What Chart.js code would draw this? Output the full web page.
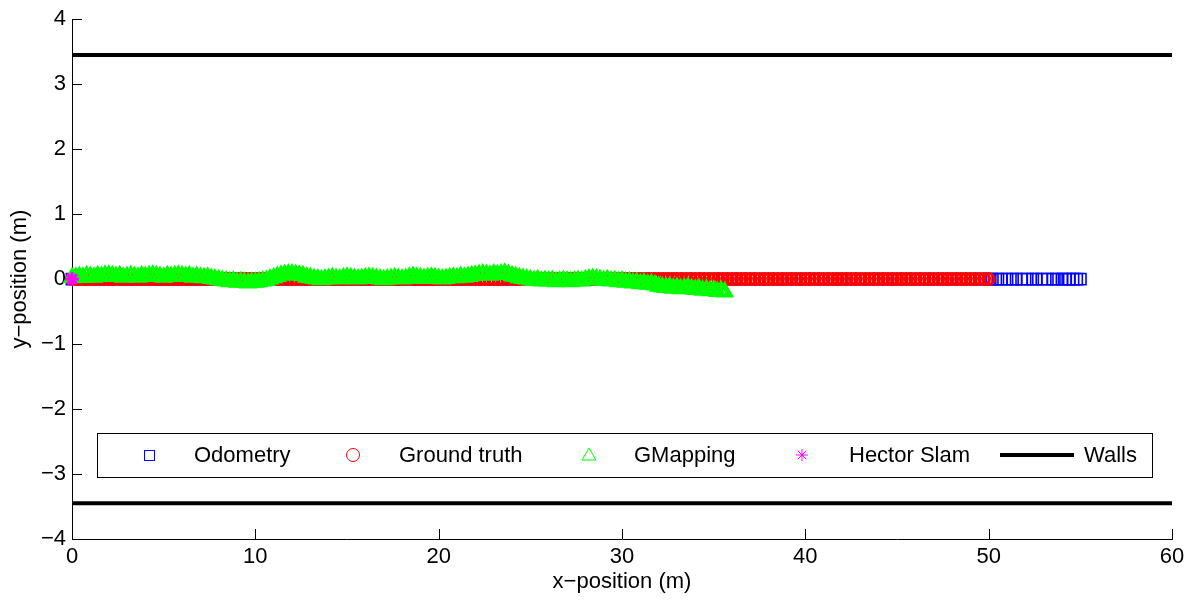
<!DOCTYPE html>
<html>
<head>
<meta charset="utf-8">
<script src="https://cdn.jsdelivr.net/npm/chart.js@4.4.1/dist/chart.umd.min.js"></script>
<style>
  html, body { margin: 0; padding: 0; background: #fff; }
</style>
</head>
<body>
<canvas id="traj" width="1191" height="600"></canvas>
<script>
// robot trajectories along the corridor, metres
const odomX = [
  0, 0.5, 1, 1.5, 2, 2.5, 3, 3.5, 4, 4.5, 5, 5.5, 6, 6.5, 7, 7.5, 8, 8.5, 9, 9.5,
  10, 10.5, 11, 11.5, 12, 12.5, 13, 13.5, 14, 14.5, 15, 15.5, 16, 16.5, 17, 17.5, 18, 18.5, 19, 19.5,
  20, 20.5, 21, 21.5, 22, 22.5, 23, 23.5, 24, 24.5, 25, 25.5, 26, 26.5, 27, 27.5, 28, 28.5, 29, 29.5,
  30, 30.5, 31, 31.5, 32, 32.5, 33, 33.5, 34, 34.5, 35, 35.5, 36, 36.5, 37, 37.5, 38, 38.5, 39, 39.5,
  40, 40.5, 41, 41.5, 42, 42.5, 43, 43.5, 44, 44.5, 45, 45.5, 46, 46.5, 47, 47.5, 48, 48.5, 49, 49.5,
  50, 50.2, 50.5, 50.7, 51.0, 51.3, 51.5, 51.8, 52.1, 52.4, 52.6, 52.9, 53.2, 53.5, 53.7,
  54.0, 54.2, 54.4, 54.6, 54.8, 55.0
];
const odomY = 0;

const groundX = [
  0, 0.25, 0.5, 0.75, 1, 1.25, 1.5, 1.75, 2, 2.25, 2.5, 2.75, 3, 3.25, 3.5, 3.75,
  4, 4.25, 4.5, 4.75, 5, 5.25, 5.5, 5.75, 6, 6.25, 6.5, 6.75, 7, 7.25, 7.5, 7.75,
  8, 8.25, 8.5, 8.75, 9, 9.25, 9.5, 9.75, 10, 10.25, 10.5, 10.75, 11, 11.25, 11.5, 11.75,
  12, 12.25, 12.5, 12.75, 13, 13.25, 13.5, 13.75, 14, 14.25, 14.5, 14.75, 15, 15.25, 15.5, 15.75,
  16, 16.25, 16.5, 16.75, 17, 17.25, 17.5, 17.75, 18, 18.25, 18.5, 18.75, 19, 19.25, 19.5, 19.75,
  20, 20.25, 20.5, 20.75, 21, 21.25, 21.5, 21.75, 22, 22.25, 22.5, 22.75, 23, 23.25, 23.5, 23.75,
  24, 24.25, 24.5, 24.75, 25, 25.25, 25.5, 25.75, 26, 26.25, 26.5, 26.75, 27, 27.25, 27.5, 27.75,
  28, 28.25, 28.5, 28.75, 29, 29.25, 29.5, 29.75, 30, 30.25, 30.5, 30.75, 31, 31.25, 31.5, 31.75,
  32, 32.25, 32.5, 32.75, 33, 33.25, 33.5, 33.75, 34, 34.25, 34.5, 34.75, 35, 35.25, 35.5, 35.75,
  36, 36.25, 36.5, 36.75, 37, 37.25, 37.5, 37.75, 38, 38.25, 38.5, 38.75, 39, 39.25, 39.5, 39.75,
  40, 40.25, 40.5, 40.75, 41, 41.25, 41.5, 41.75, 42, 42.25, 42.5, 42.75, 43, 43.25, 43.5, 43.75,
  44, 44.25, 44.5, 44.75, 45, 45.25, 45.5, 45.75, 46, 46.25, 46.5, 46.75, 47, 47.25, 47.5, 47.75,
  48, 48.25, 48.5, 48.75, 49, 49.25, 49.5, 49.75, 50
];
const groundY = 0;

const gmX = [
  0, 0.2, 0.4, 0.6, 0.8, 1, 1.2, 1.4, 1.6, 1.8,
  2, 2.2, 2.4, 2.6, 2.8, 3, 3.2, 3.4, 3.6, 3.8,
  4, 4.2, 4.4, 4.6, 4.8, 5, 5.2, 5.4, 5.6, 5.8,
  6, 6.2, 6.4, 6.6, 6.8, 7, 7.2, 7.4, 7.6, 7.8,
  8, 8.2, 8.4, 8.6, 8.8, 9, 9.2, 9.4, 9.6, 9.8,
  10, 10.2, 10.4, 10.6, 10.8, 11, 11.2, 11.4, 11.6, 11.8,
  12, 12.2, 12.4, 12.6, 12.8, 13, 13.2, 13.4, 13.6, 13.8,
  14, 14.2, 14.4, 14.6, 14.8, 15, 15.2, 15.4, 15.6, 15.8,
  16, 16.2, 16.4, 16.6, 16.8, 17, 17.2, 17.4, 17.6, 17.8,
  18, 18.2, 18.4, 18.6, 18.8, 19, 19.2, 19.4, 19.6, 19.8,
  20, 20.2, 20.4, 20.6, 20.8, 21, 21.2, 21.4, 21.6, 21.8,
  22, 22.2, 22.4, 22.6, 22.8, 23, 23.2, 23.4, 23.6, 23.8,
  24, 24.2, 24.4, 24.6, 24.8, 25, 25.2, 25.4, 25.6, 25.8,
  26, 26.2, 26.4, 26.6, 26.8, 27, 27.2, 27.4, 27.6, 27.8,
  28, 28.2, 28.4, 28.6, 28.8, 29, 29.2, 29.4, 29.6, 29.8,
  30, 30.2, 30.4, 30.6, 30.8, 31, 31.2, 31.4, 31.6, 31.8,
  32, 32.2, 32.4, 32.6, 32.8, 33, 33.2, 33.4, 33.6, 33.8,
  34, 34.2, 34.4, 34.6, 34.8, 35, 35.2, 35.4, 35.6
];
const gmY = [
  0.02, 0.03, 0.04, 0.03, 0.05, 0.04, 0.03, 0.05, 0.04, 0.06,
  0.06, 0.05, 0.04, 0.05, 0.03, 0.04, 0.05, 0.04, 0.03, 0.05,
  0.04, 0.05, 0.06, 0.05, 0.04, 0.03, 0.05, 0.04, 0.05, 0.06,
  0.05, 0.04, 0.05, 0.03, 0.04, 0.03, 0.02, 0.03, 0.01, 0.00,
  -0.01, -0.02, -0.03, -0.04, -0.03, -0.05, -0.04, -0.05, -0.06, -0.05,
  -0.05, -0.04, -0.03, -0.02, 0.00, 0.02, 0.04, 0.06, 0.07, 0.08,
  0.08, 0.07, 0.06, 0.05, 0.03, 0.02, 0.01, 0.00, -0.01, 0.00,
  0.01, 0.02, 0.01, 0.00, 0.02, 0.03, 0.02, 0.01, 0.00, 0.01,
  0.02, 0.03, 0.02, 0.01, 0.00, -0.01, 0.00, 0.01, 0.02, 0.01,
  0.00, 0.01, 0.03, 0.04, 0.03, 0.02, 0.01, 0.02, 0.03, 0.02,
  0.01, 0.00, 0.01, 0.02, 0.03, 0.02, 0.04, 0.03, 0.04, 0.05,
  0.06, 0.07, 0.08, 0.07, 0.06, 0.08, 0.07, 0.08, 0.09, 0.07,
  0.05, 0.04, 0.02, 0.01, 0.00, -0.01, -0.02, -0.01, -0.03, -0.02,
  -0.03, -0.02, -0.04, -0.03, -0.02, -0.03, -0.04, -0.03, -0.02, -0.03,
  -0.01, 0.00, 0.01, 0.00, -0.01, -0.02, -0.01, -0.03, -0.02, -0.04,
  -0.03, -0.05, -0.04, -0.06, -0.05, -0.07, -0.06, -0.08, -0.07, -0.09,
  -0.11, -0.12, -0.13, -0.12, -0.14, -0.13, -0.15, -0.14, -0.13, -0.15,
  -0.16, -0.15, -0.17, -0.16, -0.18, -0.17, -0.19, -0.18, -0.20
];

const hectorX = [0];
const hectorY = [0];

const wallX = [0, 30, 60];
const wallTopY = 3.45;
const wallBottomY = -3.45;

const seriesLabels = ["Odometry", "Ground truth", "GMapping", "Hector Slam", "Walls"];

const pts = (xs, y) => xs.map((x, i) => ({ x: x, y: Array.isArray(y) ? y[i] : y }));

const FONT = "'Liberation Sans', Arial, sans-serif";
Chart.defaults.font.family = FONT;
Chart.defaults.font.size = 22;
Chart.defaults.color = "#000";

// MATLAB-style ticks pointing into the plot
const inwardTicks = {
  id: "inwardTicks",
  beforeDatasetsDraw(chart) {
    const { ctx, chartArea, scales } = chart;
    ctx.save();
    ctx.strokeStyle = "#000";
    ctx.lineWidth = 1;
    ctx.beginPath();
    scales.x.ticks.forEach((t) => {
      const px = Math.round(scales.x.getPixelForValue(t.value)) + 0.5;
      ctx.moveTo(px, chartArea.bottom);
      ctx.lineTo(px, chartArea.bottom - 10);
    });
    scales.y.ticks.forEach((t) => {
      const py = Math.round(scales.y.getPixelForValue(t.value)) + 0.5;
      ctx.moveTo(chartArea.left, py);
      ctx.lineTo(chartArea.left + 10, py);
    });
    ctx.stroke();
    ctx.restore();
  },
};

// boxed horizontal legend sitting inside the axes
const boxLegend = {
  id: "boxLegend",
  afterDatasetsDraw(chart) {
    const { ctx, chartArea } = chart;
    const left = chartArea.left + 25;
    const right = chartArea.right - 20;
    const top = chartArea.bottom - 106;
    const bottom = chartArea.bottom - 62;
    const cy = (top + bottom) / 2;

    ctx.save();
    ctx.fillStyle = "#fff";
    ctx.fillRect(left, top, right - left, bottom - top);
    ctx.strokeStyle = "#000";
    ctx.lineWidth = 1;
    ctx.strokeRect(left + 0.5, top + 0.5, right - left, bottom - top);

    const markX = [52, 256, 492, 705];
    const textX = [97, 302, 537, 752, 987];
    ctx.lineWidth = 1;

    // square
    ctx.strokeStyle = "#0000ff";
    ctx.strokeRect(left + markX[0] - 5 + 0.5, cy - 5 + 0.5, 10, 10);
    // circle
    ctx.strokeStyle = "#ff0000";
    ctx.beginPath();
    ctx.arc(left + markX[1], cy, 6.5, 0, Math.PI * 2);
    ctx.stroke();
    // triangle
    ctx.strokeStyle = "#00ff00";
    ctx.beginPath();
    ctx.moveTo(left + markX[2], cy - 7);
    ctx.lineTo(left + markX[2] + 7, cy + 5);
    ctx.lineTo(left + markX[2] - 7, cy + 5);
    ctx.closePath();
    ctx.stroke();
    // asterisk
    ctx.strokeStyle = "#ff00ff";
    ctx.beginPath();
    for (let k = 0; k < 4; k++) {
      const a = (k * Math.PI) / 4;
      ctx.moveTo(left + markX[3] - 6 * Math.cos(a), cy - 6 * Math.sin(a));
      ctx.lineTo(left + markX[3] + 6 * Math.cos(a), cy + 6 * Math.sin(a));
    }
    ctx.stroke();
    // wall line
    ctx.strokeStyle = "#000";
    ctx.lineWidth = 4;
    ctx.beginPath();
    ctx.moveTo(left + 903, cy);
    ctx.lineTo(left + 977, cy);
    ctx.stroke();

    ctx.fillStyle = "#000";
    ctx.font = "22px " + FONT;
    ctx.textBaseline = "middle";
    ctx.textAlign = "left";
    seriesLabels.forEach((s, i) => ctx.fillText(s, left + textX[i], cy + 1));
    ctx.restore();
  },
};

const minus = (v) => String(v).replace("-", "\u2212");

new Chart(document.getElementById("traj"), {
  type: "scatter",
  data: {
    datasets: [
      {
        label: seriesLabels[0],
        data: pts(odomX, odomY),
        pointStyle: "rect",
        pointRadius: 8,
        pointBorderWidth: 1.6,
        borderColor: "#0000ff",
        backgroundColor: "transparent",
        order: 4,
        clip: false,
      },
      {
        label: seriesLabels[1],
        data: pts(groundX, groundY),
        pointStyle: "circle",
        pointRadius: 5.5,
        pointBorderWidth: 3,
        borderColor: "#ff0000",
        backgroundColor: "transparent",
        order: 3,
        clip: false,
      },
      {
        label: seriesLabels[2],
        data: pts(gmX, gmY),
        pointStyle: "triangle",
        pointRadius: 8,
        pointBorderWidth: 3,
        borderColor: "#00ff00",
        backgroundColor: "transparent",
        order: 2,
        clip: false,
      },
      {
        label: seriesLabels[3],
        data: pts(hectorX, hectorY),
        pointStyle: "star",
        pointRadius: 7,
        pointBorderWidth: 3,
        borderColor: "#ff00ff",
        backgroundColor: "transparent",
        order: 1,
        clip: false,
      },
      {
        label: seriesLabels[4],
        data: pts(wallX, wallTopY),
        showLine: true,
        pointRadius: 0,
        borderWidth: 4,
        borderColor: "#000",
        order: 5,
        clip: false,
      },
      {
        label: seriesLabels[4],
        data: pts(wallX, wallBottomY),
        showLine: true,
        pointRadius: 0,
        borderWidth: 4,
        borderColor: "#000",
        order: 5,
        clip: false,
      },
    ],
  },
  options: {
    responsive: false,
    animation: false,
    layout: {
      padding: { top: 17, right: 19, left: 0, bottom: 0 },
    },
    plugins: {
      legend: { display: false },
      tooltip: { enabled: false },
    },
    scales: {
      x: {
        type: "linear",
        min: 0,
        max: 60,
        afterFit(scale) {
          scale.height = 61;
        },
        ticks: {
          stepSize: 10,
          padding: 5,
          maxRotation: 0,
        },
        grid: { drawOnChartArea: false, drawTicks: false },
        border: { display: true, color: "#000", width: 1 },
        title: {
          display: true,
          text: "x\u2212position (m)",
          padding: { top: 0, bottom: 5 },
        },
      },
      y: {
        type: "linear",
        min: -4,
        max: 4,
        afterFit(scale) {
          scale.width = 72;
        },
        ticks: {
          stepSize: 1,
          padding: 6,
          callback: (v) => minus(v),
        },
        grid: { drawOnChartArea: false, drawTicks: false },
        border: { display: true, color: "#000", width: 1 },
        title: {
          display: true,
          text: "y\u2212position (m)",
          padding: { top: 7, bottom: 0 },
        },
      },
    },
  },
  plugins: [inwardTicks, boxLegend],
});
</script>
</body>
</html>
